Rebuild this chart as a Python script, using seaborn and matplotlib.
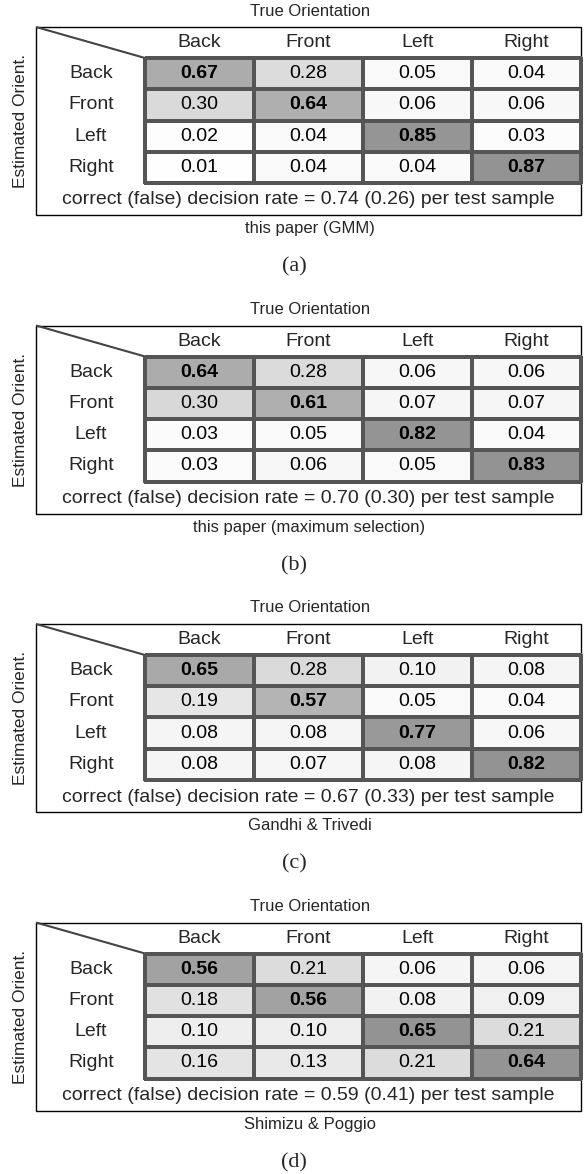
import matplotlib
matplotlib.use("Agg")
import matplotlib.pyplot as plt
from matplotlib.colors import LinearSegmentedColormap
from matplotlib.patches import Rectangle
import seaborn as sns
import numpy as np
import pandas as pd

# ---- data ----
orientations = ["Back", "Front", "Left", "Right"]

gmm = [[0.67, 0.28, 0.05, 0.04],
       [0.30, 0.64, 0.06, 0.06],
       [0.02, 0.04, 0.85, 0.03],
       [0.01, 0.04, 0.04, 0.87]]
max_sel = [[0.64, 0.28, 0.06, 0.06],
           [0.30, 0.61, 0.07, 0.07],
           [0.03, 0.05, 0.82, 0.04],
           [0.03, 0.06, 0.05, 0.83]]
gandhi = [[0.65, 0.28, 0.10, 0.08],
          [0.19, 0.57, 0.05, 0.04],
          [0.08, 0.08, 0.77, 0.06],
          [0.08, 0.07, 0.08, 0.82]]
shimizu = [[0.56, 0.21, 0.06, 0.06],
           [0.18, 0.56, 0.08, 0.09],
           [0.10, 0.10, 0.65, 0.21],
           [0.16, 0.13, 0.21, 0.64]]

correct_rates = ["0.74", "0.70", "0.67", "0.59"]
false_rates = ["0.26", "0.30", "0.33", "0.41"]
methods = ["this paper (GMM)", "this paper (maximum selection)",
           "Gandhi & Trivedi", "Shimizu & Poggio"]
panel_labels = ["(a)", "(b)", "(c)", "(d)"]
matrices = [gmm, max_sel, gandhi, shimizu]

# ---- style ----
sns.set_style("white")
plt.rcParams['font.family'] = ['Liberation Sans', 'DejaVu Sans']

W, H = 584, 1174
fig = plt.figure(figsize=(W / 100, H / 100), dpi=100)
fig.patch.set_facecolor("white")

over = fig.add_axes([0, 0, 1, 1], zorder=0)
over.set_xlim(0, W)
over.set_ylim(H, 0)
over.axis("off")

cmap = LinearSegmentedColormap.from_list("gr", ["#ffffff", "#939393"])

box_l, box_r = 36, 581
hm_l = 145
tops = [27, 325.5, 624, 922.5]
header_h = 31
hm_h = 125
box_h = 188

for i, mat in enumerate(matrices):
    top = tops[i]
    df = pd.DataFrame(mat, index=orientations, columns=orientations)

    # outer frame, diagonal
    over.add_patch(Rectangle((box_l, top), box_r - box_l, box_h, fill=False,
                             edgecolor="black", lw=1.0))
    over.plot([box_l, hm_l], [top, top + header_h], color="#444444", lw=1.5,
              solid_capstyle="butt")
    over.text((box_l + box_r) / 2 + 2, top - 16, "True Orientation",
              ha="center", va="center", fontsize=12)
    over.text(21, top + 94, "Estimated Orient.",
              ha="center", va="center", rotation=90, fontsize=12.5)
    over.text((box_l + box_r) / 2, top + 173,
              f"correct (false) decision rate = {correct_rates[i]} ({false_rates[i]}) per test sample",
              ha="center", va="center", fontsize=14)
    over.text((box_l + box_r) / 2 + 1, top + 202, methods[i],
              ha="center", va="center", fontsize=12)
    over.text(294, top + 240, panel_labels[i], ha="center", va="center",
              fontsize=16, family="Liberation Serif")

    ax = fig.add_axes([hm_l / W, 1 - (top + header_h + hm_h) / H,
                       (box_r - hm_l) / W, hm_h / H], zorder=2)
    sns.heatmap(df, ax=ax, cmap=cmap, vmin=0, vmax=float(np.max(mat)),
                annot=True, fmt=".2f", cbar=False, linewidths=1.5,
                linecolor="#555555",
                annot_kws={"fontsize": 14, "color": "black"},
                xticklabels=orientations, yticklabels=orientations)
    ax.collections[0].set_clip_on(False)
    for k, t in enumerate(ax.texts):
        if k // 4 == k % 4:
            t.set_fontweight("bold")
    ax.xaxis.tick_top()
    ax.tick_params(axis="x", length=0, labelsize=14, pad=11)
    ax.tick_params(axis="y", length=0, labelsize=14, pad=39)
    for lab in ax.get_xticklabels():
        lab.set_va("center")
        lab.set_rotation(0)
    for lab in ax.get_yticklabels():
        lab.set_ha("center")
        lab.set_rotation(0)
    ax.set_xlabel("")
    ax.set_ylabel("")

fig.savefig("out.png", dpi=100, facecolor="white")
